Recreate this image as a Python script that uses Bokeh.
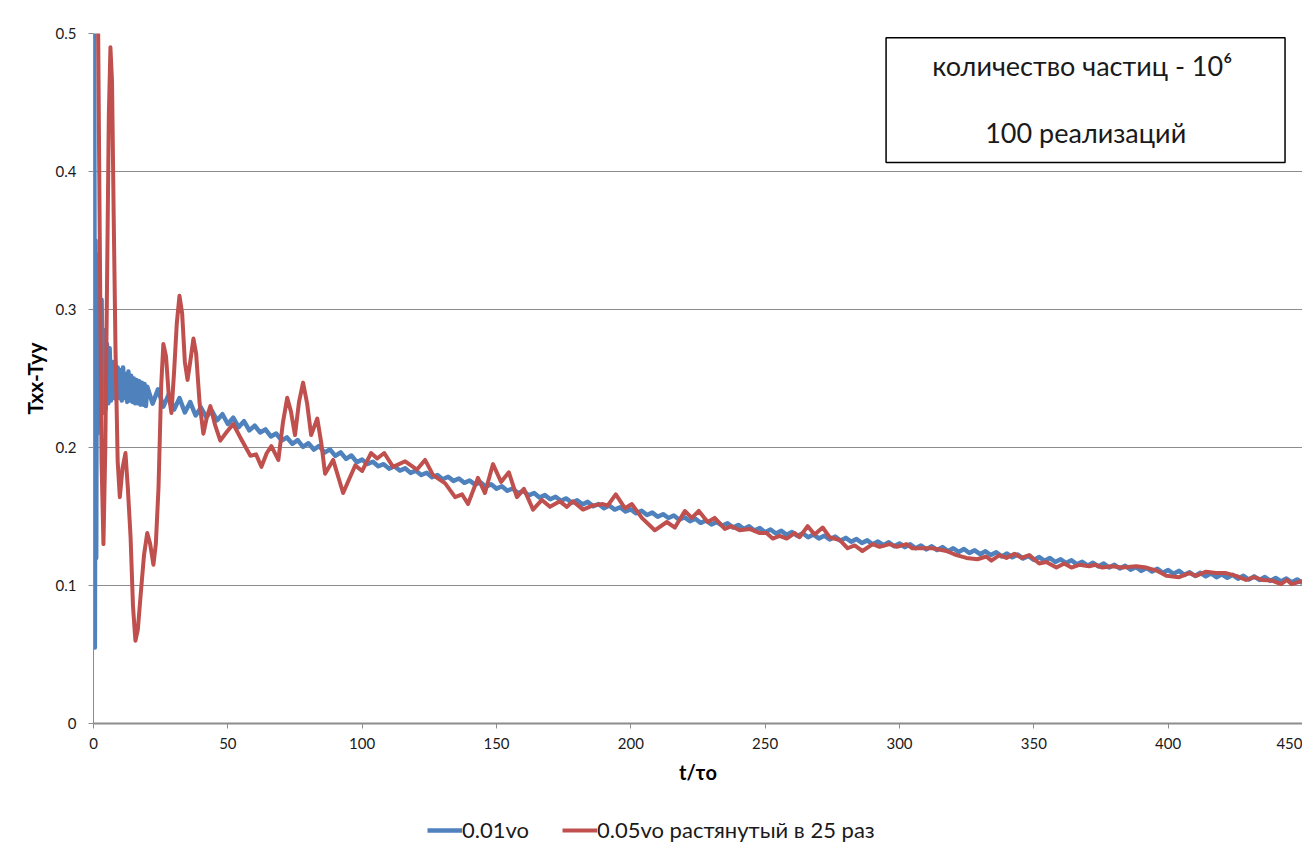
from bokeh.plotting import figure
from bokeh.layouts import column
from bokeh.models import (Range1d, Legend, LegendItem, BoxAnnotation, Label,
                          FixedTicker, PrintfTickFormatter)
from bokeh.embed import file_html
from bokeh.resources import INLINE

# ---------------- data ----------------
x_ticks = [0, 50, 100, 150, 200, 250, 300, 350, 400, 450]
y_ticks = [0, 0.1, 0.2, 0.3, 0.4, 0.5]

blue_label = "0.01vo"
red_label = "0.05vo растянутый в 25 раз"
box_line1 = "количество частиц  - 10⁶"
box_line2 = "100 реализаций"
x_title = "t/τo"
y_title = "Txx-Tyy"

blue_t = [0, 0.25, 0.5, 0.75, 1.0, 1.25, 1.5, 2.0, 2.5, 3.0,
          3.5, 4.0, 4.5, 5.0, 5.5, 6.0, 6.5, 7.0, 7.5, 8.0,
          8.5, 9.0, 9.5, 10.0, 10.5, 11.0, 11.5, 12.0, 12.5, 13.0,
          13.5, 14.0, 14.5, 15.0, 15.5, 16.0, 16.5, 17.0, 17.5, 18.0,
          18.5, 19.0, 19.5,
          20, 22, 24, 26, 28, 30, 32, 34, 36, 38,
          40, 42, 44, 46, 48, 50, 52, 54, 56, 58,
          60, 62, 64, 66, 68, 70, 72, 74, 76, 78,
          80, 82, 84, 86, 88, 90, 92, 94, 96, 98,
          100, 102, 104, 106, 108, 110, 112, 114, 116, 118,
          120, 122, 124, 126, 128, 130, 132, 134, 136, 138,
          140, 142, 144, 146, 148, 150, 152, 154, 156, 158,
          160, 162, 164, 166, 168, 170, 172, 174, 176, 178,
          180, 182, 184, 186, 188, 190, 192, 194, 196, 198,
          200, 202, 204, 206, 208, 210, 212, 214, 216, 218,
          220, 222, 224, 226, 228, 230, 232, 234, 236, 238,
          240, 242, 244, 246, 248, 250, 252, 254, 256, 258,
          260, 262, 264, 266, 268, 270, 272, 274, 276, 278,
          280, 282, 284, 286, 288, 290, 292, 294, 296, 298,
          300, 302, 304, 306, 308, 310, 312, 314, 316, 318,
          320, 322, 324, 326, 328, 330, 332, 334, 336, 338,
          340, 342, 344, 346, 348, 350, 352, 354, 356, 358,
          360, 362, 364, 366, 368, 370, 372, 374, 376, 378,
          380, 382, 384, 386, 388, 390, 392, 394, 396, 398,
          400, 402, 404, 406, 408, 410, 412, 414, 416, 418,
          420, 422, 424, 426, 428, 430, 432, 434, 436, 438,
          440, 442, 444, 446, 448, 450]

blue_v = [0.30, 0.55, 0.055, 0.35, 0.12, 0.34, 0.21, 0.30, 0.215, 0.307,
          0.225, 0.285, 0.228, 0.275, 0.232, 0.272, 0.234, 0.262, 0.236, 0.262,
          0.235, 0.258, 0.236, 0.256, 0.234, 0.258, 0.236, 0.253, 0.233, 0.255,
          0.234, 0.252, 0.233, 0.250, 0.232, 0.249, 0.232, 0.248, 0.231, 0.247,
          0.231, 0.246, 0.230,
          0.2440, 0.2318, 0.2421, 0.2296, 0.2384, 0.2275, 0.2358, 0.2254, 0.2329, 0.2232,
          0.2290, 0.2220, 0.2268, 0.2197, 0.2241, 0.2170, 0.2216, 0.2147, 0.2191, 0.2124,
          0.2158, 0.2109, 0.2131, 0.2080, 0.2101, 0.2051, 0.2073, 0.2027, 0.2053, 0.2005,
          0.2031, 0.1985, 0.2011, 0.1963, 0.1987, 0.1939, 0.1965, 0.1918, 0.1942, 0.1894,
          0.1912, 0.1881, 0.1897, 0.1864, 0.1879, 0.1847, 0.1864, 0.1833, 0.1849, 0.1816,
          0.1832, 0.1801, 0.1817, 0.1785, 0.1801, 0.1770, 0.1788, 0.1758, 0.1775, 0.1744,
          0.1761, 0.1731, 0.1748, 0.1717, 0.1733, 0.1702, 0.1719, 0.1687, 0.1703, 0.1669,
          0.1685, 0.1653, 0.1670, 0.1638, 0.1655, 0.1625, 0.1643, 0.1614, 0.1631, 0.1600,
          0.1618, 0.1588, 0.1606, 0.1574, 0.1591, 0.1560, 0.1579, 0.1550, 0.1567, 0.1536,
          0.1552, 0.1523, 0.1541, 0.1511, 0.1528, 0.1498, 0.1517, 0.1489, 0.1507, 0.1476,
          0.1494, 0.1466, 0.1484, 0.1454, 0.1471, 0.1442, 0.1461, 0.1433, 0.1451, 0.1420,
          0.1439, 0.1410, 0.1429, 0.1398, 0.1416, 0.1386, 0.1406, 0.1377, 0.1396, 0.1367,
          0.1387, 0.1359, 0.1379, 0.1350, 0.1369, 0.1341, 0.1361, 0.1334, 0.1354, 0.1325,
          0.1345, 0.1317, 0.1337, 0.1308, 0.1327, 0.1299, 0.1319, 0.1292, 0.1313, 0.1284,
          0.1305, 0.1278, 0.1299, 0.1270, 0.1290, 0.1262, 0.1284, 0.1257, 0.1278, 0.1249,
          0.1270, 0.1243, 0.1264, 0.1235, 0.1255, 0.1227, 0.1248, 0.1221, 0.1241, 0.1211,
          0.1231, 0.1204, 0.1224, 0.1195, 0.1214, 0.1185, 0.1206, 0.1179, 0.1199, 0.1170,
          0.1190, 0.1163, 0.1183, 0.1153, 0.1172, 0.1144, 0.1165, 0.1138, 0.1159, 0.1130,
          0.1150, 0.1123, 0.1143, 0.1115, 0.1134, 0.1106, 0.1127, 0.1101, 0.1121, 0.1092,
          0.1112, 0.1085, 0.1106, 0.1077, 0.1096, 0.1069, 0.1092, 0.1066, 0.1088, 0.1060,
          0.1081, 0.1056, 0.1077, 0.1049, 0.1070, 0.1043, 0.1066, 0.1040, 0.1061, 0.1034,
          0.1055, 0.1030, 0.1051, 0.1023, 0.1044, 0.1017]

red_t = [0.0, 1.5, 2.3, 3.0, 3.7, 4.4, 5.1, 5.7, 6.3, 6.9,
         7.5, 8.2, 9.0, 9.8, 10.8, 11.9, 12.8, 13.8, 14.7, 15.6,
         16.5, 17.5, 18.8, 20.0, 21.1, 22.3, 23.2, 24.2, 25.2, 26.0,
         27.0, 28.0, 29.0, 30.0, 31.0, 32.0, 33.0, 34.0, 35.0, 36.0,
         37.2, 38.2, 39.5, 40.9, 42.2, 43.5, 45.3, 47.2, 49.5, 52.0,
         55.0, 58.4, 60.5, 62.5, 64.5, 66.2, 68.8, 70.5, 72.1, 73.5,
         75.0, 76.5, 78.0, 79.5, 81.0, 83.3, 84.8, 86.2, 89.2, 92.9,
         97.4, 100.0, 103.3, 105.6, 108.2, 111.5, 116.0, 120.4, 123.4, 126.4,
         130.9, 134.6, 137.2, 139.4, 143.1, 145.7, 148.7, 151.7, 154.6, 157.6,
         160.2, 163.6, 166.9, 169.9, 173.6, 176.2, 178.4, 182.2, 185.9, 189.6,
         191.4, 194.4, 197.8, 200.4, 204.1, 208.9, 213.4, 216.4, 220.1, 222.7,
         225.3, 228.6, 231.2, 235.0, 237.5, 240.5, 244.2, 248.0, 250.5, 252.8,
         255.4, 258.0, 261.0, 262.8, 265.8, 268.4, 271.4, 274.0, 277.7, 280.7,
         283.3, 286.2, 290.0, 292.6, 296.3, 299.0, 302.6, 304.8, 308.6, 312.3,
         317.5, 321.2, 324.9, 329.0, 332.3, 334.2, 337.2, 339.8, 342.8, 345.4,
         348.3, 352.0, 354.6, 358.4, 361.3, 364.0, 366.9, 370.6, 373.0, 375.5,
         379.2, 382.9, 388.1, 391.8, 395.5, 399.3, 404.1, 407.8, 410.4, 414.1,
         417.8, 421.5, 425.3, 429.0, 432.0, 435.0, 438.7, 442.0, 444.2, 446.0,
         449.4]

red_v = [0.85, 0.56, 0.36, 0.19, 0.130, 0.20, 0.33, 0.44, 0.490, 0.465,
         0.37, 0.27, 0.19, 0.164, 0.185, 0.196, 0.17, 0.135, 0.085, 0.060,
         0.068, 0.092, 0.122, 0.138, 0.130, 0.115, 0.130, 0.171, 0.245, 0.275,
         0.266, 0.238, 0.225, 0.255, 0.290, 0.310, 0.297, 0.262, 0.249, 0.262,
         0.279, 0.268, 0.232, 0.210, 0.222, 0.230, 0.216, 0.205, 0.211, 0.217,
         0.206, 0.194, 0.195, 0.186, 0.196, 0.201, 0.191, 0.218, 0.236, 0.226,
         0.209, 0.233, 0.247, 0.232, 0.209, 0.221, 0.203, 0.181, 0.191, 0.167,
         0.187, 0.183, 0.196, 0.192, 0.196, 0.186, 0.190, 0.184, 0.191, 0.180,
         0.174, 0.164, 0.166, 0.159, 0.178, 0.167, 0.188, 0.175, 0.182, 0.164,
         0.170, 0.155, 0.162, 0.157, 0.161, 0.157, 0.161, 0.155, 0.158, 0.159,
         0.158, 0.166, 0.156, 0.159, 0.149, 0.140, 0.146, 0.142, 0.154, 0.149,
         0.154, 0.146, 0.149, 0.141, 0.143, 0.140, 0.141, 0.138, 0.138, 0.134,
         0.136, 0.134, 0.138, 0.135, 0.143, 0.137, 0.142, 0.135, 0.133, 0.127,
         0.129, 0.125, 0.130, 0.128, 0.130, 0.128, 0.130, 0.127, 0.127, 0.127,
         0.125, 0.122, 0.120, 0.119, 0.121, 0.118, 0.122, 0.120, 0.123, 0.120,
         0.122, 0.116, 0.117, 0.113, 0.116, 0.113, 0.115, 0.114, 0.115, 0.113,
         0.114, 0.113, 0.114, 0.113, 0.111, 0.107, 0.106, 0.109, 0.107, 0.110,
         0.109, 0.109, 0.107, 0.104, 0.106, 0.104, 0.1036, 0.101, 0.104, 0.101,
         0.103]

BLUE = "#4F81BD"
RED = "#C0504D"
TXT = "#1a1a1a"
FONT = "Lato"
NAN = float("nan")

# ---------------- main figure ----------------
p = figure(width=1302, height=800,
           x_range=Range1d(0, 450), y_range=Range1d(0, 0.5),
           output_backend="svg", toolbar_location=None,
           min_border_left=93, min_border_right=0,
           min_border_top=33, min_border_bottom=77)
p.outline_line_color = None
p.background_fill_color = "white"
p.border_fill_color = "white"

rb = p.line(blue_t, blue_v, line_color=BLUE, line_width=4.5, line_join="round")
rr = p.line(red_t, red_v, line_color=RED, line_width=4, line_join="round", line_cap="round")

# grid
p.xgrid.visible = False
p.ygrid.grid_line_color = "#8c8c8c"
p.ygrid.grid_line_width = 1

# axes
p.xaxis.ticker = FixedTicker(ticks=x_ticks)
p.yaxis.ticker = FixedTicker(ticks=y_ticks)
p.yaxis.formatter = PrintfTickFormatter(format="%g")
for ax in (p.xaxis[0], p.yaxis[0]):
    ax.axis_line_color = "#8c8c8c"
    ax.major_tick_line_color = "#8c8c8c"
    ax.major_tick_in = 0
    ax.major_tick_out = 5
    ax.minor_tick_line_color = None
    ax.major_label_text_font = FONT
    ax.major_label_text_font_size = "15px"
    ax.major_label_text_color = TXT
    ax.axis_label_text_font = FONT
    ax.axis_label_text_font_style = "bold"
    ax.axis_label_text_color = "black"
p.xaxis.axis_line_width = 2
p.xaxis.major_label_standoff = 9
p.xaxis.axis_label = x_title
p.xaxis.axis_label_text_font_size = "20px"
p.xaxis.axis_label_standoff = 8
p.yaxis.axis_line_width = 1
p.yaxis.major_label_standoff = 12
p.yaxis.axis_label = y_title
p.yaxis.axis_label_text_font_size = "21px"
p.yaxis.axis_label_standoff = 6

# text box
box = BoxAnnotation(left=295, right=443.5, bottom=0.4065, top=0.497,
                    fill_color="white", fill_alpha=1.0,
                    line_color="black", line_alpha=1.0, line_width=1.5)
p.add_layout(box)
p.add_layout(Label(x=369.3, y=0.4768, text=box_line1, text_align="center",
                   text_baseline="middle", text_font=FONT,
                   text_font_size="27px", text_color=TXT))
p.add_layout(Label(x=369.3, y=0.4283, text=box_line2, text_align="center",
                   text_baseline="middle", text_font=FONT,
                   text_font_size="27px", text_color=TXT))

# ---------------- legend strip below ----------------
q = figure(width=1302, height=50, x_range=Range1d(0, 1), y_range=Range1d(0, 1),
           output_backend="svg", toolbar_location=None,
           x_axis_location=None, y_axis_location=None, min_border=0)
q.outline_line_color = None
q.xgrid.visible = False
q.ygrid.visible = False
lb = q.line(x=[NAN], y=[NAN], line_color=BLUE, line_width=4.5)
lr = q.line(x=[NAN], y=[NAN], line_color=RED, line_width=4)
legend = Legend(items=[LegendItem(label=blue_label, renderers=[lb]),
                       LegendItem(label=red_label, renderers=[lr])],
                location=(334, 7), orientation="horizontal",
                glyph_width=35, glyph_height=22, label_height=22,
                label_standoff=0, spacing=33, padding=0, margin=0,
                border_line_color=None, background_fill_alpha=0,
                label_text_font=FONT, label_text_font_size="22px",
                label_text_color=TXT)
q.add_layout(legend)

open("out.html", "w").write(file_html(column(p, q, spacing=0), INLINE))
